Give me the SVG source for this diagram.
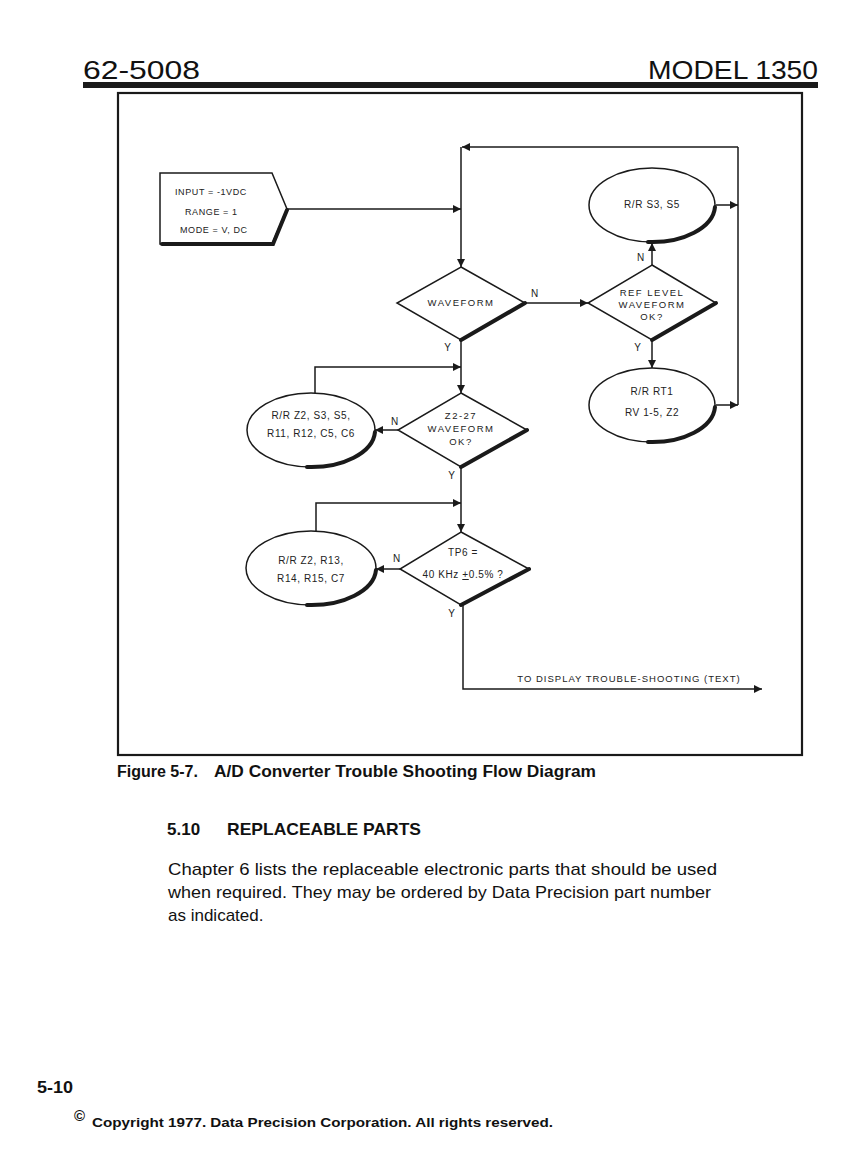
<svg xmlns="http://www.w3.org/2000/svg" width="864" height="1155" viewBox="0 0 864 1155">
<defs>
<marker id="arr" viewBox="0 0 10 10" refX="10" refY="5" markerWidth="11" markerHeight="8" markerUnits="userSpaceOnUse" orient="auto"><path d="M0,0 L10,5 L0,10 z" fill="#1a1a1a"/></marker>
</defs>
<style>
.ln{fill:none;stroke:#1a1a1a;stroke-width:1.5}
.sh{fill:none;stroke:#1a1a1a;stroke-width:4;stroke-linecap:round}
.nd{fill:#fff;stroke:#1a1a1a;stroke-width:1.5}
.t{font-family:"Liberation Sans",Arial,sans-serif;font-size:9.5px;letter-spacing:1.5px;fill:#222;text-anchor:middle}
.lb{font-family:"Liberation Sans",Arial,sans-serif;font-size:10px;letter-spacing:0.6px;fill:#222;text-anchor:middle}
.in{font-family:"Liberation Sans",Arial,sans-serif;font-size:9px;letter-spacing:0.6px;fill:#222;text-anchor:start}
.hd{font-family:"Liberation Sans",Arial,sans-serif;font-size:25px;fill:#111}
.body{font-family:"Liberation Sans",Arial,sans-serif;font-size:17px;fill:#111}
.bold{font-family:"Liberation Sans",Arial,sans-serif;font-weight:bold;fill:#111}
</style>
<rect width="864" height="1155" fill="#fff"/>
<!-- header -->
<text class="hd" x="83" y="79" textLength="117" lengthAdjust="spacingAndGlyphs">62-5008</text>
<text class="hd" x="648" y="79" textLength="170" lengthAdjust="spacingAndGlyphs">MODEL 1350</text>
<rect x="83" y="82" width="735" height="6" fill="#1a1a1a"/>
<!-- frame -->
<rect x="118" y="93" width="684" height="662" fill="none" stroke="#1a1a1a" stroke-width="2.2"/>

<g id="connectors">
<path class="ln" d="M287,209 H461" marker-end="url(#arr)"/>
<path class="ln" d="M738,147 H462" marker-end="url(#arr)"/>
<path class="ln" d="M461,147 V267" marker-end="url(#arr)"/>
<path class="ln" d="M738,405 V147"/>
<path class="ln" d="M716,205 H738" marker-end="url(#arr)"/>
<path class="ln" d="M716,405 H738" marker-end="url(#arr)"/>
<path class="ln" d="M525,303 H588" marker-end="url(#arr)"/>
<path class="ln" d="M652,265 V243" marker-end="url(#arr)"/>
<path class="ln" d="M652,340 V368" marker-end="url(#arr)"/>
<path class="ln" d="M461,340 V393" marker-end="url(#arr)"/>
<path class="ln" d="M315,394 V367 H461" marker-end="url(#arr)"/>
<path class="ln" d="M398,430 H375" marker-end="url(#arr)"/>
<path class="ln" d="M461,467 V532" marker-end="url(#arr)"/>
<path class="ln" d="M316,531 V503 H461" marker-end="url(#arr)"/>
<path class="ln" d="M400,569 H376" marker-end="url(#arr)"/>
<path class="ln" d="M463,605 V689 H762" marker-end="url(#arr)"/>
<text class="lb" x="535" y="297">N</text>
<text class="lb" x="448" y="351">Y</text>
<text class="lb" x="641" y="261">N</text>
<text class="lb" x="638" y="351">Y</text>
<text class="lb" x="395" y="425">N</text>
<text class="lb" x="452" y="479">Y</text>
<text class="lb" x="397" y="562">N</text>
<text class="lb" x="452" y="617">Y</text>
<text class="t" x="629" y="682" style="letter-spacing:1px">TO DISPLAY TROUBLE-SHOOTING (TEXT)</text>
</g>

<g id="input">
<path class="nd" d="M160,173 H272 L287,209 L272,244 H160 Z"/>
<path class="sh" d="M287,210 L273,244 H162" stroke-width="3"/>
<text class="in" x="175" y="195">INPUT = -1VDC</text>
<text class="in" x="185" y="215">RANGE = 1</text>
<text class="in" x="180" y="233">MODE = V, DC</text>
</g>

<g id="waveform">
<path class="nd" d="M461,267 L525,303 L461,340 L397,303 Z"/>
<path class="sh" d="M461,340 L525,303"/>
<text class="t" x="461" y="306">WAVEFORM</text>
</g>

<g id="reflevel">
<path class="nd" d="M652,265 L716,303 L652,340 L588,303 Z"/>
<path class="sh" d="M652,340 L716,303"/>
<text class="t" x="652" y="296">REF LEVEL</text>
<text class="t" x="652" y="308">WAVEFORM</text>
<text class="t" x="652" y="320">OK?</text>
</g>

<g id="rr-s3s5">
<ellipse class="nd" cx="652" cy="205" rx="63" ry="37"/>
<path class="sh" d="M715,207 A63,37 0 0 1 648,242" stroke-width="3.5"/>
<text class="lb" x="652" y="208">R/R S3, S5</text>
</g>

<g id="rr-rt1">
<ellipse class="nd" cx="652" cy="405" rx="63" ry="37"/>
<path class="sh" d="M715,407 A63,37 0 0 1 648,442" stroke-width="3.5"/>
<text class="lb" x="652" y="395">R/R RT1</text>
<text class="lb" x="652" y="416">RV 1-5, Z2</text>
</g>

<g id="z227">
<path class="nd" d="M461,393 L527,430 L461,467 L398,430 Z"/>
<path class="sh" d="M461,467 L527,430"/>
<text class="t" x="461" y="419">Z2-27</text>
<text class="t" x="461" y="432">WAVEFORM</text>
<text class="t" x="461" y="445">OK?</text>
</g>

<g id="rr-z2s3">
<ellipse class="nd" cx="311" cy="430" rx="64" ry="37"/>
<path class="sh" d="M375,432 A64,37 0 0 1 307,467" stroke-width="3.5"/>
<text class="lb" x="311" y="419">R/R Z2, S3, S5,</text>
<text class="lb" x="311" y="437">R11, R12, C5, C6</text>
</g>

<g id="tp6">
<path class="nd" d="M461,532 L529,569 L461,605 L400,569 Z"/>
<path class="sh" d="M461,605 L529,569"/>
<text class="lb" x="463" y="556">TP6 =</text>
<text class="lb" x="463" y="578">40 KHz <tspan text-decoration="underline">+</tspan>0.5% ?</text>
</g>

<g id="rr-z2r13">
<ellipse class="nd" cx="311" cy="568" rx="65" ry="37"/>
<path class="sh" d="M376,570 A65,37 0 0 1 307,605" stroke-width="3.5"/>
<text class="lb" x="311" y="564">R/R Z2, R13,</text>
<text class="lb" x="311" y="582">R14, R15, C7</text>
</g>

<!-- caption and body -->
<text class="bold" font-size="16" y="777"><tspan x="117">Figure 5-7.</tspan><tspan x="214" textLength="382" lengthAdjust="spacingAndGlyphs">A/D Converter Trouble Shooting Flow Diagram</tspan></text>
<text class="bold" font-size="17" y="835"><tspan x="167">5.10</tspan><tspan x="227" textLength="194" lengthAdjust="spacingAndGlyphs">REPLACEABLE PARTS</tspan></text>
<text class="body" x="168" y="875" textLength="549" lengthAdjust="spacingAndGlyphs">Chapter 6 lists the replaceable electronic parts that should be used</text>
<text class="body" x="168" y="898" textLength="543" lengthAdjust="spacingAndGlyphs">when required. They may be ordered by Data Precision part number</text>
<text class="body" x="168" y="921">as indicated.</text>
<!-- footer -->
<text class="bold" x="37" y="1093" font-size="16" font-family="Liberation Mono" textLength="36" lengthAdjust="spacingAndGlyphs">5-10</text>
<text class="bold" x="74" y="1121" font-size="15" font-weight="normal">©</text>
<text class="bold" x="92" y="1127" font-size="12" textLength="461" lengthAdjust="spacingAndGlyphs">Copyright 1977. Data Precision Corporation. All rights reserved.</text>
</svg>
